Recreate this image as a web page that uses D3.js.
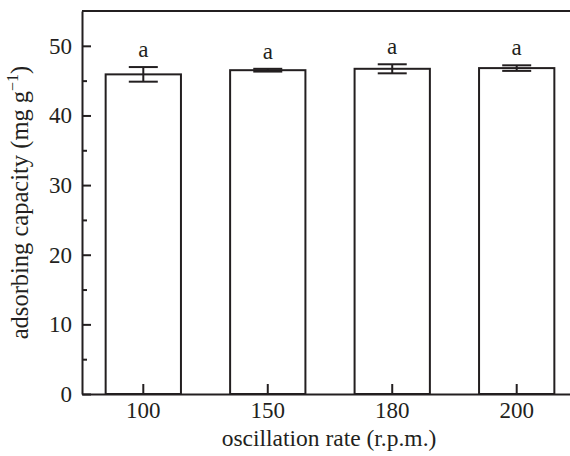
<!DOCTYPE html>
<html><head><meta charset="utf-8">
<script src="https://cdn.jsdelivr.net/npm/d3@7"></script>
<style>body{margin:0;background:#fff}svg{display:block}</style>
</head><body>
<svg id="c" width="570" height="456"></svg>
<script>
const categories = ["100", "150", "180", "200"];
const values = [45.9, 46.5, 46.7, 46.8];
const errors = [1.05, 0.2, 0.65, 0.4];
const groupLabels = ["a", "a", "a", "a"];
const yMajorTicks = [0, 10, 20, 30, 40, 50];
const yMinorTicks = [5, 15, 25, 35, 45];

const ink = "#231f20";
const font = "'Liberation Serif', 'Times New Roman', serif";
const svg = d3.select("#c");
const L = 82, R = 578, T = 11, B = 394;

const y = d3.scaleLinear().domain([0, 55]).range([B, T]);
const x = d3.scaleBand().domain(categories).range([L, R]).paddingInner(0.395).paddingOuter(0.19);

// bars
svg.append("g").selectAll("rect").data(categories).join("rect")
  .attr("x", d => x(d)).attr("width", x.bandwidth())
  .attr("y", (d, i) => y(values[i])).attr("height", (d, i) => y(0) - y(values[i]))
  .attr("fill", "#fff").attr("stroke", ink).attr("stroke-width", 2);

// error bars
const cap = 29;
const eb = svg.append("g").attr("stroke", ink).attr("stroke-width", 2);
categories.forEach((c, i) => {
  const cx = x(c) + x.bandwidth() / 2;
  const y1 = y(values[i] + errors[i]), y0 = y(values[i] - errors[i]);
  eb.append("line").attr("x1", cx).attr("x2", cx).attr("y1", y1).attr("y2", y0);
  eb.append("line").attr("x1", cx - cap / 2).attr("x2", cx + cap / 2).attr("y1", y1).attr("y2", y1);
  eb.append("line").attr("x1", cx - cap / 2).attr("x2", cx + cap / 2).attr("y1", y0).attr("y2", y0);
});

// group letters
svg.append("g").selectAll("text").data(categories).join("text")
  .attr("x", d => x(d) + x.bandwidth() / 2)
  .attr("y", (d, i) => y(values[i] + errors[i]) - 10)
  .attr("text-anchor", "middle").attr("font-family", font).attr("font-size", 23).attr("fill", ink)
  .text((d, i) => groupLabels[i]);

// top border
svg.append("line").attr("x1", L).attr("x2", R).attr("y1", y(55)).attr("y2", y(55))
  .attr("stroke", ink).attr("stroke-width", 2);

// y axis
svg.append("g").attr("transform", `translate(${L},0)`)
  .call(d3.axisLeft(y).tickValues(yMajorTicks).tickSize(-9).tickSizeOuter(0).tickPadding(10));
svg.append("g").attr("transform", `translate(${L},0)`)
  .call(d3.axisLeft(y).tickValues(yMinorTicks).tickSize(-5).tickSizeOuter(0).tickFormat(""))
  .call(g => g.select(".domain").remove());

// x axis
svg.append("g").attr("transform", `translate(0,${B})`)
  .call(d3.axisBottom(x).tickSize(-10).tickSizeOuter(0).tickPadding(8));

svg.selectAll(".tick line, .domain").attr("stroke", ink).attr("stroke-width", 2);
svg.selectAll(".tick text").attr("font-family", font).attr("font-size", 23).attr("fill", ink);

// axis titles
svg.append("text").attr("x", 329).attr("y", 446)
  .attr("text-anchor", "middle").attr("font-family", font).attr("font-size", 23.5).attr("fill", ink)
  .text("oscillation rate (r.p.m.)");

const yt = svg.append("text").attr("transform", `translate(28,${(T + B) / 2}) rotate(-90)`)
  .attr("text-anchor", "middle").attr("font-family", font).attr("font-size", 24.5).attr("fill", ink);
yt.append("tspan").text("adsorbing capacity (mg g");
yt.append("tspan").attr("font-size", 16).attr("dy", -10).text("\u22121");
yt.append("tspan").attr("dy", 10).text(")");
</script>
</body></html>
